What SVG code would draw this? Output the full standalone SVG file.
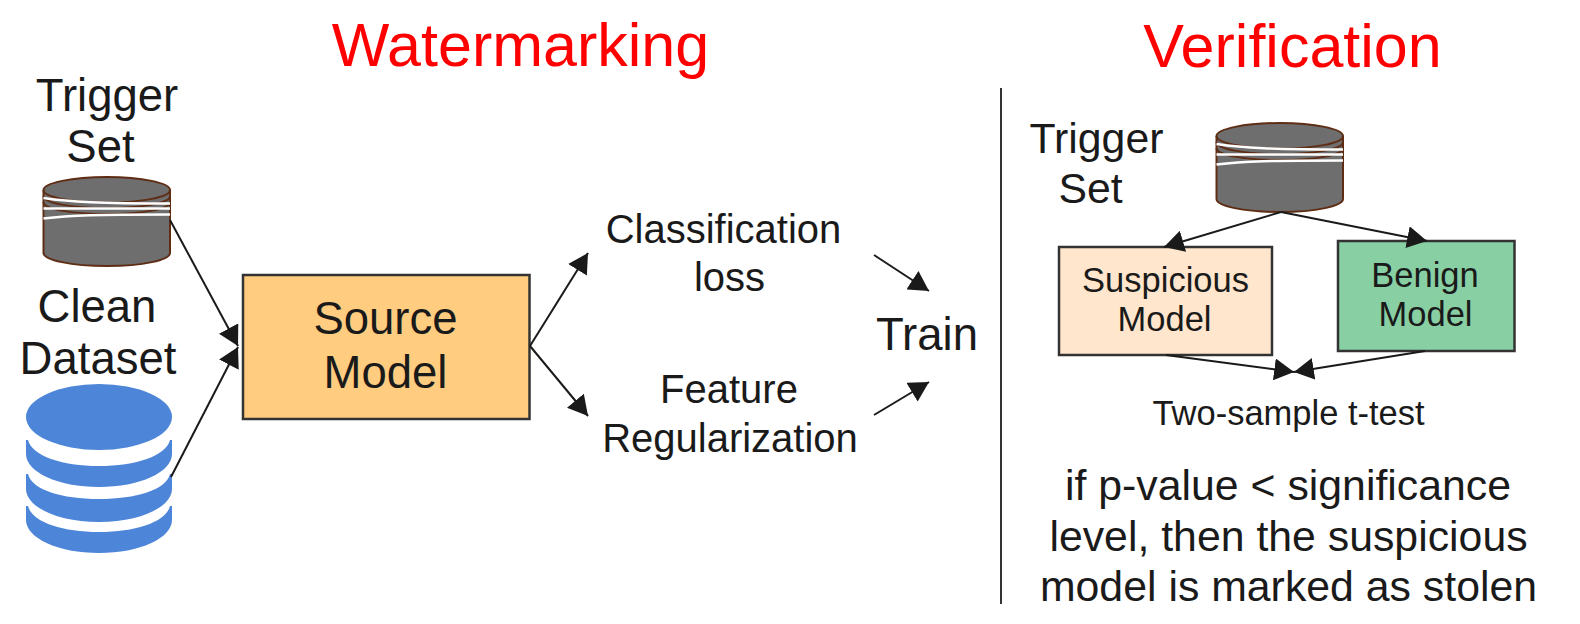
<svg xmlns="http://www.w3.org/2000/svg" xmlns:xlink="http://www.w3.org/1999/xlink" width="1580" height="624" viewBox="0 0 1580 624">
<style>
text{font-family:"Liberation Sans",Arial,sans-serif;fill:#1a1a1a;text-anchor:middle}
.title{fill:#ff0000;font-size:61px}
.xl{font-size:45.500px}
.l{font-size:42.800px}
.m{font-size:40px}
.s{font-size:34.500px}
.box{stroke:#333;stroke-width:2.500}
.c{fill:none;stroke:#1a1a1a;stroke-width:2}
.db{fill:#6e6e6e;stroke:#5e2d14;stroke-width:2}
.dbl{fill:none;stroke:#5e2d14;stroke-width:2}
.w{fill:none;stroke:#fff;stroke-width:2.500}
.blue{fill:#4d85d9}
</style>
<defs>
<marker id="a" markerUnits="userSpaceOnUse" markerWidth="20" markerHeight="22" viewBox="0 0 18 20" refX="18" refY="10" orient="auto"><path d="M0 0L18 10L0 20Z" fill="#1a1a1a"/></marker>
<g id="cyl">
<path class="db" d="M43.500 190V253C43.500 260 71 266 107 266S170 260 170 253V190C170 183 142 177 107 177S43.500 183 43.500 190Z"/>
<path class="dbl" d="M43.500 190C43.500 197 71 202.500 107 202.500S170 197 170 190"/>
<path class="dbl" d="M43.500 196C43.500 203 71 208 107 208S170 203 170 196"/>
<path class="dbl" d="M43.500 202C43.500 209 71 214 107 214S170 209 170 202"/>
<path class="w" d="M43.500 198C70 202 100 203.500 170 203.500"/>
<path class="w" d="M43.500 208.500H170"/>
<path class="w" d="M43.500 218.500C70 215 100 214.500 170 214.500"/>
</g>
</defs>
<g id="titles">
<text class="title" x="520.500" y="66">Watermarking</text>
<text class="title" x="1292.500" y="67">Verification</text>
</g>
<line id="divider" x1="1001" y1="88" x2="1001" y2="604" stroke="#333" stroke-width="2"/>
<g id="trigger-set-left">
<text class="xl" x="107" y="110.500">Trigger</text>
<text class="xl" x="100.500" y="162">Set</text>
<use xlink:href="#cyl" href="#cyl"/>
</g>
<g id="clean-dataset">
<text class="xl" x="97" y="322">Clean</text>
<text class="xl" x="98" y="374">Dataset</text>
<ellipse class="blue" cx="99" cy="417" rx="73" ry="33"/>
<path class="blue" d="M26 440V454C26 472 58 487 99 487S172 472 172 454V440H170C166 456 136 466 99 466S32 456 28 440Z"/>
<path class="blue" d="M26 474V489C26 507 58 522 99 522S172 507 172 489V474H170C166 490 136 499 99 499S32 490 28 474Z"/>
<path class="blue" d="M26 506V520C26 538 58 553 99 553S172 538 172 520V506H170C166 522 136 532 99 532S32 522 28 506Z"/>
</g>
<g id="source-model">
<rect class="box" x="243" y="275" width="286.500" height="144" fill="#ffcc80"/>
<text class="xl" x="385.500" y="334">Source</text>
<text class="xl" x="385.500" y="388">Model</text>
</g>
<g id="classification-loss">
<text class="m" x="723.500" y="243">Classification</text>
<text class="m" x="729.500" y="291">loss</text>
</g>
<g id="feature-regularization">
<text class="m" x="729" y="403">Feature</text>
<text class="m" x="730" y="452">Regularization</text>
</g>
<g id="train"><text class="xl" x="927" y="350">Train</text></g>
<g id="trigger-set-right">
<text class="l" x="1096.500" y="152.500">Trigger</text>
<text class="l" x="1090.500" y="203">Set</text>
<use xlink:href="#cyl" href="#cyl" transform="translate(1173 -54)"/>
</g>
<g id="suspicious-model">
<rect class="box" x="1059" y="247" width="213" height="108" fill="#ffe6cc"/>
<text class="s" x="1165.500" y="292">Suspicious</text>
<text class="s" x="1164.500" y="331">Model</text>
</g>
<g id="benign-model">
<rect class="box" x="1338" y="241" width="176.500" height="110" fill="#88d0a4"/>
<text class="s" x="1425" y="287">Benign</text>
<text class="s" x="1425.500" y="326">Model</text>
</g>
<g id="two-sample-t-test"><text class="s" x="1288.500" y="424.500">Two-sample t-test</text></g>
<g id="decision">
<text class="l" x="1288" y="500">if p-value &lt; significance</text>
<text class="l" x="1288.500" y="551">level, then the suspicious</text>
<text class="l" x="1288.500" y="601">model is marked as stolen</text>
</g>
<g id="connectors">
<line class="c" x1="170" y1="220" x2="238" y2="346" marker-end="url(#a)"/>
<line class="c" x1="171" y1="477" x2="238" y2="347" marker-end="url(#a)"/>
<line class="c" x1="530" y1="346" x2="588" y2="253" marker-end="url(#a)"/>
<line class="c" x1="530" y1="346" x2="588" y2="416" marker-end="url(#a)"/>
<line class="c" x1="874" y1="255" x2="929" y2="291" marker-end="url(#a)"/>
<line class="c" x1="874" y1="415" x2="929" y2="382" marker-end="url(#a)"/>
<line class="c" x1="1281" y1="212" x2="1164" y2="247" marker-end="url(#a)"/>
<line class="c" x1="1281" y1="212" x2="1427" y2="241" marker-end="url(#a)"/>
<line class="c" x1="1166" y1="355" x2="1294" y2="372" marker-end="url(#a)"/>
<line class="c" x1="1425" y1="351" x2="1294" y2="372" marker-end="url(#a)"/>
</g>
</svg>
